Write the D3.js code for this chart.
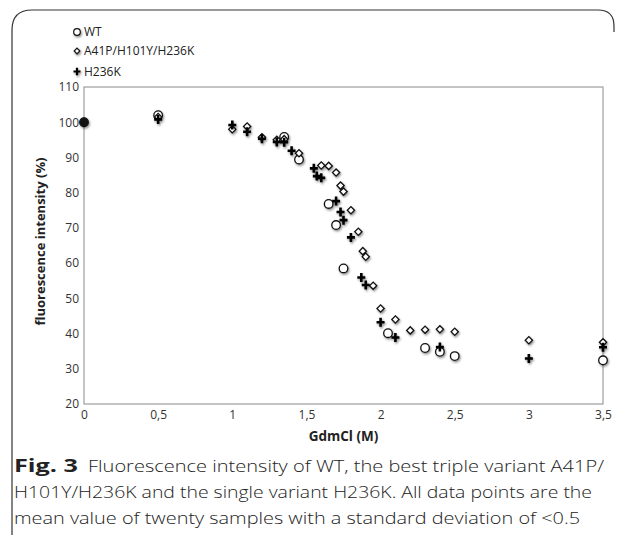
<!DOCTYPE html>
<html><head><meta charset="utf-8">
<script src="https://cdn.jsdelivr.net/npm/d3@7"></script>
<style>body{margin:0;background:#fff}</style></head>
<body><svg id="c" width="624" height="535"></svg>
<script>
// ---- data (GdmCl concentration in M, fluorescence intensity in %) ----
const seriesNames = ["WT", "A41P/H101Y/H236K", "H236K"];
const wtX = [0, 0.5, 1.35, 1.45, 1.65, 1.7, 1.75, 2.05, 2.3, 2.4, 2.5, 3.5];
const wtY = [100, 102, 95.8, 89.4, 76.8, 70.8, 58.5, 40.1, 35.9, 34.8, 33.6, 32.4];
const tripleX = [0, 0.5, 1, 1.1, 1.2, 1.3, 1.35, 1.45, 1.6, 1.65, 1.7, 1.73, 1.75, 1.8, 1.85, 1.88, 1.9, 1.95, 2.0, 2.1, 2.2, 2.3, 2.4, 2.5, 3.0, 3.5];
const tripleY = [100, 101.5, 98, 98.8, 95.7, 95, 95.2, 91.2, 87.7, 87.6, 85.7, 82, 80.3, 75, 68.9, 63.4, 61.8, 53.6, 47.1, 44, 40.9, 41.1, 41.2, 40.5, 38.1, 37.5];
const h236kX = [0, 0.5, 1, 1.1, 1.2, 1.3, 1.35, 1.4, 1.55, 1.57, 1.6, 1.7, 1.73, 1.75, 1.8, 1.87, 1.9, 2.0, 2.1, 2.4, 3.0, 3.5];
const h236kY = [100, 100.8, 99.2, 97.3, 95.3, 94.4, 94.3, 91.9, 86.9, 84.7, 84.2, 77.6, 74.5, 72.2, 67.3, 55.9, 53.8, 43.2, 38.9, 36.2, 32.9, 36.1];
const xTicks = [0, 0.5, 1, 1.5, 2, 2.5, 3, 3.5];
const yTicks = [20, 30, 40, 50, 60, 70, 80, 90, 100, 110];
const xTitle = "GdmCl (M)";
const yTitle = "fluorescence intensity (%)";
const captionBold = "Fig. 3";
const captionLines = [
  "Fluorescence intensity of WT, the best triple variant A41P/",
  "H101Y/H236K and the single variant H236K. All data points are the",
  "mean value of twenty samples with a standard deviation of <0.5"
];

const svg = d3.select("#c");
const defs = svg.append("defs");
const f = defs.append("filter").attr("id","sh").attr("x","-50%").attr("y","-50%").attr("width","200%").attr("height","200%");
f.append("feDropShadow").attr("dx",1).attr("dy",1.5).attr("stdDeviation",0.9).attr("flood-color","#000").attr("flood-opacity",0.45);

// outer rounded border
svg.append("path")
  .attr("d","M12,535 L12,30 Q12,10 32,10 L598,10 Q614,10 614,26 L614,32")
  .attr("fill","none").attr("stroke","#333").attr("stroke-width",1.2);

const x = d3.scaleLinear().domain([0, 3.5]).range([84, 603]);
const y = d3.scaleLinear().domain([20, 110]).range([404, 87]);

// plot frame
svg.append("rect").attr("x", x(0)).attr("y", y(110))
  .attr("width", x(3.5) - x(0)).attr("height", y(20) - y(110))
  .attr("fill","none").attr("stroke","#8a8a8a").attr("stroke-width",1);

const fmt = v => String(v).replace(".", ",");
const tickFont = "'Open Sans', sans-serif";

const gy = svg.append("g").attr("transform", `translate(${x(0)},0)`)
  .call(d3.axisLeft(y).tickValues(yTicks).tickSize(0).tickPadding(5).tickFormat(d => d));
gy.select(".domain").remove();
gy.selectAll("text").attr("font-family", tickFont).attr("font-size", 12).attr("fill", "#333");

const gx = svg.append("g").attr("transform", `translate(0,${y(20)})`)
  .call(d3.axisBottom(x).tickValues(xTicks).tickSize(0).tickPadding(6).tickFormat(fmt));
gx.select(".domain").remove();
gx.selectAll("text").attr("font-family", tickFont).attr("font-size", 12).attr("fill", "#333");

// axis titles
svg.append("text").attr("x", (x(0) + x(3.5)) / 2).attr("y", 441)
  .attr("text-anchor","middle").attr("font-family", tickFont).attr("font-weight","bold")
  .attr("font-size", 13.5).attr("fill","#222").text(xTitle);
svg.append("text").attr("transform", `translate(45,${(y(20) + y(110)) / 2 - 4}) rotate(-90)`)
  .attr("text-anchor","middle").attr("font-family", tickFont).attr("font-weight","bold")
  .attr("font-size", 13).attr("fill","#222").text(yTitle);

// marker symbols
const diamondPath = d3.symbol().type(d3.symbolSquare).size(26)();
function drawCircle(g, cx, cy) {
  g.append("circle").attr("cx", cx).attr("cy", cy).attr("r", 4.3)
    .attr("fill","#fff").attr("stroke","#111").attr("stroke-width",1.3);
}
function drawDiamond(g, cx, cy) {
  g.append("path").attr("d", diamondPath).attr("transform", `translate(${cx},${cy}) rotate(45)`)
    .attr("fill","#fff").attr("stroke","#111").attr("stroke-width",1.3);
}
function drawPlus(g, cx, cy) {
  g.append("path").attr("d", `M${cx-4},${cy}H${cx+4}M${cx},${cy-4.5}V${cy+4.5}`)
    .attr("stroke","#000").attr("stroke-width",2.6).attr("fill","none");
}

const marks = svg.append("g").attr("filter","url(#sh)");
const gW = marks.append("g").attr("class","wt");
wtX.forEach((v, i) => drawCircle(gW, x(v), y(wtY[i])));
const gT = marks.append("g").attr("class","triple");
tripleX.forEach((v, i) => drawDiamond(gT, x(v), y(tripleY[i])));
const gH = marks.append("g").attr("class","h236k");
h236kX.forEach((v, i) => drawPlus(gH, x(v), y(h236kY[i])));
// point at origin appears filled (all three series overlap)
svg.append("circle").attr("cx", x(0)).attr("cy", y(100)).attr("r", 4.2).attr("fill","#111");

// legend
const leg = svg.append("g");
const legY = [32, 51, 71.5];
seriesNames.forEach((n, i) => {
  const lg = leg.append("g").attr("filter","url(#sh)");
  if (i === 0) lg.append("circle").attr("cx",77).attr("cy",legY[i]).attr("r",3.3).attr("fill","#fff").attr("stroke","#111").attr("stroke-width",1.2);
  else if (i === 1) lg.append("path").attr("d", d3.symbol().type(d3.symbolSquare).size(16)()).attr("transform",`translate(77,${legY[i]}) rotate(45)`).attr("fill","#fff").attr("stroke","#111").attr("stroke-width",1.2);
  else lg.append("path").attr("d",`M73.5,${legY[i]}H80.5M77,${legY[i]-3.8}V${legY[i]+3.8}`).attr("stroke","#000").attr("stroke-width",2.2);
  leg.append("text").attr("x",84).attr("y",legY[i]).attr("dy","0.36em")
    .attr("font-family", tickFont).attr("font-size", 12).attr("fill","#222").text(n);
});

// caption
const capFont = "'Open Sans', sans-serif";
svg.append("text").attr("x",14).attr("y",472).attr("font-family",capFont).attr("font-weight","bold")
  .attr("font-size",17).attr("fill","#222").attr("textLength",64).attr("lengthAdjust","spacingAndGlyphs").text(captionBold);
const capX = [88, 14, 14];
const capW = [516, 578, 566];
const capY = [472, 498, 524];
captionLines.forEach((t, i) => {
  svg.append("text").attr("x",capX[i]).attr("y",capY[i]).attr("font-family",capFont)
    .attr("font-weight",300).attr("font-size",17).attr("fill","#222")
    .attr("textLength",capW[i]).attr("lengthAdjust","spacingAndGlyphs").text(t);
});
</script>
</body></html>
